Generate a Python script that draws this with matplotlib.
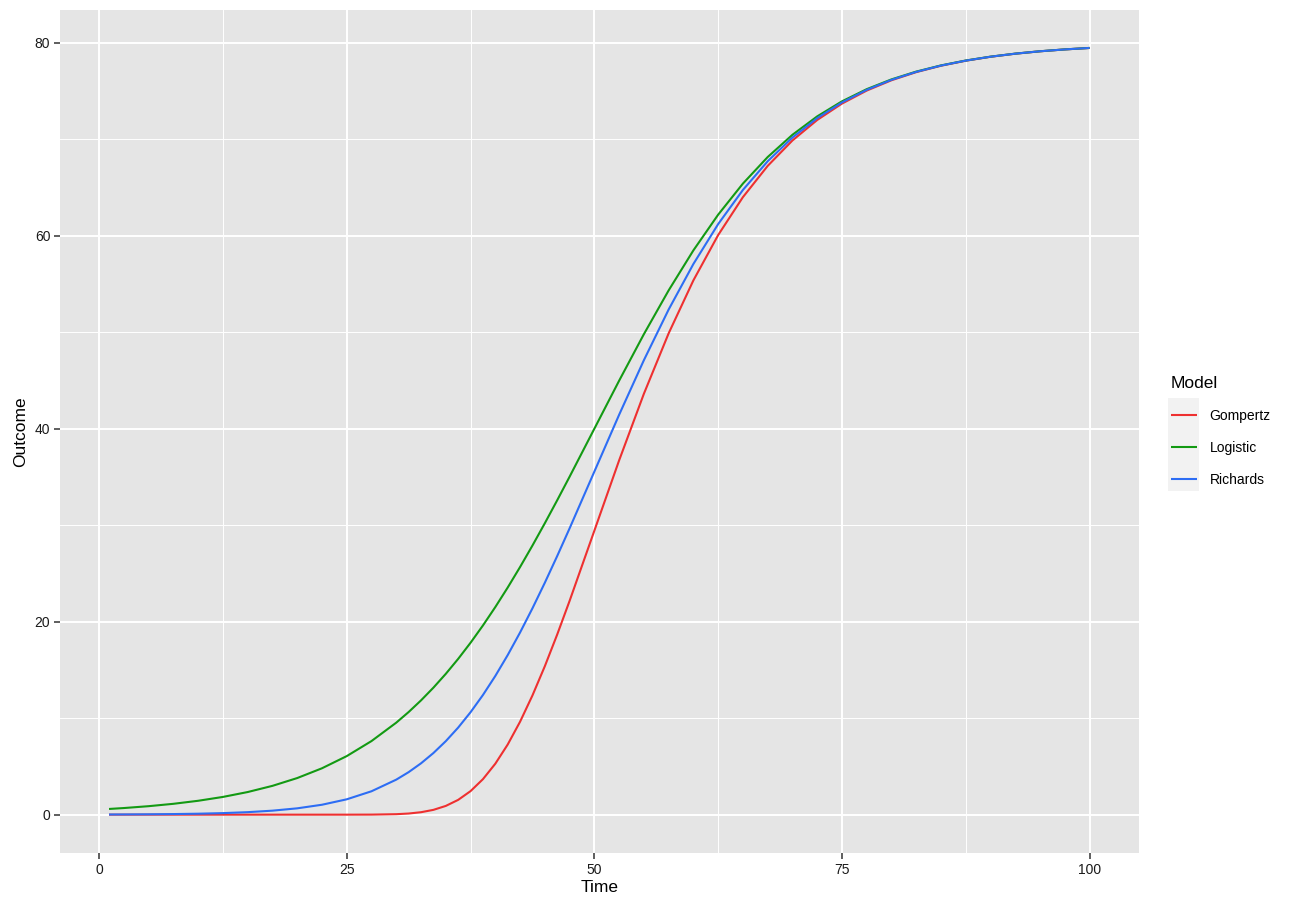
import matplotlib
matplotlib.use("Agg")
import matplotlib.pyplot as plt
from matplotlib.ticker import MultipleLocator
from matplotlib.patches import Rectangle

plt.rcParams['font.family'] = ['Liberation Sans', 'DejaVu Sans']

time = [1, 2.5, 5, 7.5, 10, 12.5, 15, 17.5, 20, 22.5, 25, 27.5, 30, 31.25,
        32.5, 33.75, 35, 36.25, 37.5, 38.75, 40, 41.25, 42.5, 43.75, 45,
        46.25, 47.5, 50, 52.5, 55, 57.5, 60, 62.5, 65, 67.5, 70,
        72.5, 75, 77.5, 80, 82.5, 85, 87.5, 90, 92.5, 95, 97.5, 100]

gompertz = [0.0, 0.0, 0.0, 0.0, 0.0, 0.0, 0.0, 0.0, 0.0, 0.0, 0.0004, 0.006,
            0.049, 0.118, 0.254, 0.498, 0.906, 1.532, 2.439, 3.677, 5.279,
            7.265, 9.632, 12.354, 15.384, 18.672, 22.154, 29.430,
            36.715, 43.619, 49.882, 55.376, 60.071, 64.002, 67.239, 69.874,
            71.998, 73.696, 75.046, 76.115, 76.958, 77.620, 78.140, 78.548,
            78.867, 79.116, 79.311, 79.462]

logistic = [0.591, 0.686, 0.879, 1.125, 1.439, 1.838, 2.345, 2.986, 3.794,
            4.807, 6.069, 7.628, 9.536, 10.637, 11.844, 13.161, 14.594, 16.145,
            17.816, 19.607, 21.515, 23.537, 25.666, 27.892, 30.204, 32.587,
            35.026, 40.0, 44.974, 49.797, 54.334, 58.485, 62.184,
            65.406, 68.157, 70.464, 72.372, 73.931, 75.193, 76.206, 77.014,
            77.655, 78.162, 78.561, 78.875, 79.121, 79.314, 79.465]

richards = [0.0172, 0.0231, 0.0378, 0.0615, 0.0999, 0.1614, 0.2595, 0.4144,
            0.656, 1.028, 1.591, 2.425, 3.630, 4.407, 5.322, 6.387, 7.617,
            9.023, 10.616, 12.399, 14.374, 16.537, 18.880, 21.386, 24.036,
            26.807, 29.671, 35.556, 41.442, 47.100, 52.351, 57.073,
            61.208, 64.747, 67.721, 70.180, 72.190, 73.816, 75.121, 76.161,
            76.985, 77.637, 78.151, 78.555, 78.871, 79.119, 79.312, 79.464]

models = ["Gompertz", "Logistic", "Richards"]
colors = ["#EE3030", "#139A13", "#2D6DF4"]
series = [gompertz, logistic, richards]

W, H = 1299, 910
fig = plt.figure(figsize=(W / 100, H / 100), dpi=100)
ax = fig.add_axes([60 / W, 1 - 853 / H, (1138.6 - 60) / W, (853 - 9.6) / H])
ax.set_facecolor("#E5E5E5")

for name, col, ys in zip(models, colors, series):
    ax.plot(time, ys, color=col, lw=1.5, label=name, solid_capstyle="butt", zorder=3)

ax.margins(x=0.05, y=0.05)
ax.xaxis.set_major_locator(MultipleLocator(25))
ax.xaxis.set_minor_locator(MultipleLocator(12.5))
ax.yaxis.set_major_locator(MultipleLocator(20))
ax.yaxis.set_minor_locator(MultipleLocator(10))
ax.grid(which="major", color="white", lw=1.4)
ax.grid(which="minor", color="white", lw=0.7)
ax.set_axisbelow(True)
for s in ax.spines.values():
    s.set_visible(False)
ax.tick_params(which="major", length=4, width=1.1, color="#333333",
               labelsize=10, labelcolor="#1A1A1A", pad=3)
ax.tick_params(which="minor", length=0)

ax.set_xlabel("Time", fontsize=12.5, labelpad=2)
ax.set_ylabel("Outcome", fontsize=12.5, labelpad=5)

# legend key background (ggplot grey95), drawn beneath everything
fig.patches.append(Rectangle((1168 / W, 1 - 491 / H), 31 / W, 93 / H,
                             transform=fig.transFigure, facecolor="#F2F2F2",
                             edgecolor="none", zorder=-5))

leg = ax.legend(title="Model", loc="center left", bbox_to_anchor=(1.018, 0.5),
                frameon=False, fontsize=10, title_fontsize=12.5,
                handlelength=1.9, handletextpad=0.9, labelspacing=1.3)
leg._legend_box.align = "left"
leg.set_zorder(10)

fig.savefig("out.png", dpi=100)
